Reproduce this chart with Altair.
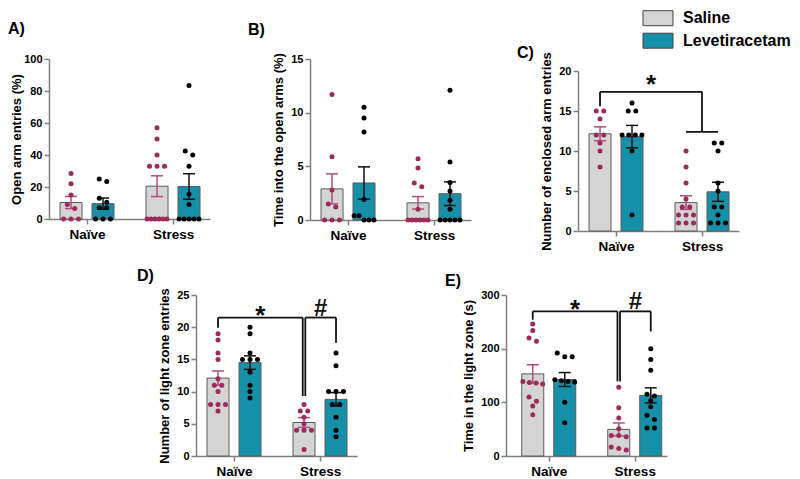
import altair as alt
import pandas as pd

GROUPS = ["Naïve", "Stress"]
TREATMENTS = ["Saline", "Levetiracetam"]

# ---------- A) Open arm entries (%) ----------
a_naive_saline = [28.5, 22, 15, 9, 6.5, 0, 0, 0]
a_naive_lev = [25, 23.5, 13, 10.5, 7, 7, 0, 0, 0]
a_stress_saline = [57, 50, 40, 33, 33, 33, 0, 0, 0, 0, 0, 0]
a_stress_lev = [83.5, 42.5, 40, 33, 15.5, 9, 0, 0, 0, 0, 0]
a_mean = [10.3, 9.6, 20.5, 20.3]      # Naïve-Sal, Naïve-Lev, Stress-Sal, Stress-Lev
a_sem = [3.8, 3.5, 6.5, 8.0]
a_ticks = [0, 20, 40, 60, 80, 100]

# ---------- B) Time into the open arms (%) ----------
b_naive_saline = [11.7, 5.9, 2.8, 1.5, 1.2, 0, 0, 0]
b_naive_lev = [10.5, 9.5, 8.2, 1.9, 0.4, 0.4, 0, 0, 0]
b_stress_saline = [5.7, 4.85, 3.45, 3.1, 1.0, 0, 0, 0, 0, 0, 0]
b_stress_lev = [12.1, 5.4, 3.5, 2.7, 1.85, 1.0, 0, 0, 0, 0, 0]
b_mean = [2.9, 3.45, 1.6, 2.45]
b_sem = [1.4, 1.5, 0.58, 1.1]
b_ticks = [0, 5, 10, 15]

# ---------- C) Number of enclosed arm entries ----------
c_naive_saline = [15, 15, 14, 12, 12, 11, 10, 8]
c_naive_lev = [16, 15, 15, 12, 12, 12, 12, 10, 2]
c_stress_saline = [10, 8, 6, 4, 3, 3, 2, 2, 2, 1, 1, 1]
c_stress_lev = [11, 11, 10, 6, 5, 3, 3, 2, 1, 1, 1]
c_mean = [12.15, 11.8, 3.55, 4.9]
c_sem = [0.87, 1.4, 0.85, 1.2]
c_ticks = [0, 5, 10, 15, 20]
c_bracket = [15.6, 17.4, 12.4]          # left drop end, top, right drop end
c_star_y = 18.9

# ---------- D) Number of light zone entries ----------
d_naive_saline = [19, 18, 16, 15, 12, 11, 11, 10, 8, 8, 8, 7]
d_naive_lev = [20, 19, 16, 15, 15, 15, 13, 11, 10, 9]
d_stress_saline = [8, 7, 7, 6, 5, 4, 4, 4, 1]
d_stress_lev = [16, 14, 10, 10, 10, 8, 8, 6, 4, 3]
d_mean = [12.1, 14.5, 5.2, 8.8]
d_sem = [1.1, 1.05, 0.75, 1.05]
d_ticks = [0, 5, 10, 15, 20, 25]
d_bracket = [19.9, 21.5, 9.3, 17.6]     # left drop, top, middle drops, right drop
d_star_y = 22.5
d_hash_y = 22.9

# ---------- E) Time in the light zone (s) ----------
e_naive_saline = [246, 234, 220, 214, 139, 137, 136, 134, 110, 102, 93, 77]
e_naive_lev = [192, 185, 185, 142, 140, 139, 138, 100, 62]
e_stress_saline = [128, 90, 71, 51, 38, 38, 36, 17, 14, 11]
e_stress_lev = [200, 180, 160, 115, 112, 103, 92, 76, 68, 52, 52]
e_mean = [153, 142.5, 49.6, 113]
e_sem = [17, 13, 12, 14]
e_ticks = [0, 100, 200, 300]
e_bracket = [254, 269.5, 139, 232]
e_star_y = 282
e_hash_y = 286.6

# ---------- styling ----------
FONT = "Liberation Sans"
SALINE_FILL = "#d4d4d4"
LEV_FILL = "#1690a9"
SALINE_DOT = "#9c2a5b"
LEV_DOT = "#000000"
SALINE_ERR = "#b24d7c"
DARK = "#111111"

GROUP_X = {"Naïve": 0.0, "Stress": 2.0}
TREAT_DX = {"Saline": -0.372, "Levetiracetam": 0.372}
BAR_HALF = 0.256
CAP_HALF = 0.14
GAP = 0.03
PW = 161

FILL_SCALE = alt.Scale(domain=TREATMENTS, range=[SALINE_FILL, LEV_FILL])


def xpos(g, t=None):
    return GROUP_X[g] + (TREAT_DX[t] if t else 0.0)


def swarm(values, ymax, height):
    tol = 4.5 * ymax / height
    vals = sorted(values, reverse=True)
    rows = []
    for v in vals:
        if rows and rows[-1][0] - v <= tol:
            rows[-1].append(v)
        else:
            rows.append([v])
    out = []
    for r in rows:
        k = len(r)
        step = 0.174 if k < 2 else min(0.174, 0.46 / (k - 1))
        for i, v in enumerate(r):
            out.append((v, (i - (k - 1) / 2) * step))
    return out


def panel_layers(ytitle, ymax, yticks, vals, means, sems, err_color, xdomain,
                 height, yshift=0, paths=None, symbols=None, xoff=0, title_pad=5):
    combos = [(g, t) for g in GROUPS for t in TREATMENTS]
    bar_rows, cap_rows, pt_rows = [], [], []
    for (g, t), m, s, v in zip(combos, means, sems, vals):
        xc = xpos(g, t)
        bar_rows.append(dict(group=g, treatment=t, xc=xc, xl=xc - BAR_HALF,
                             xr=xc + BAR_HALF, mean=m, base=0.0, lo=m - s, hi=m + s))
        for cy in (m - s, m + s):
            cap_rows.append(dict(treatment=t, capl=xc - CAP_HALF,
                                 capr=xc + CAP_HALF, cy=cy))
        for val, off in swarm(v, ymax, height - yshift):
            pt_rows.append(dict(treatment=t, x=xc + off, value=val))
    bars_df = pd.DataFrame(bar_rows)
    caps_df = pd.DataFrame(cap_rows)
    pts_df = pd.DataFrame(pt_rows)

    xscale = alt.Scale(domain=xdomain, nice=False, zero=False, range=[xoff, xoff + PW])
    yscale = alt.Scale(domain=[0, ymax], nice=False, range=[height, yshift])
    xaxis = alt.Axis(values=[0, 2], labelExpr="datum.value == 0 ? 'Naïve' : 'Stress'",
                     title=None, labelFontSize=13.5, labelPadding=3, tickSize=5,
                     labelFlush=False, grid=False)
    yaxis = alt.Axis(values=yticks, title=ytitle, labelFontSize=11, labelPadding=2,
                     tickSize=5, titleFontSize=13, titlePadding=title_pad,
                     labelFlush=False, grid=False, offset=-xoff)

    def X(f):
        return alt.X(f, type="quantitative", scale=xscale, axis=xaxis)

    def Y(f):
        return alt.Y(f, type="quantitative", scale=yscale, axis=yaxis)

    bars = alt.Chart(bars_df).mark_bar(stroke="#5c5c5c", strokeWidth=1).encode(
        x=X("xl"), x2="xr", y=Y("mean"), y2="base",
        fill=alt.Fill("treatment:N", scale=FILL_SCALE, legend=None))
    err_scale = alt.Scale(domain=TREATMENTS, range=[err_color, DARK])
    err = alt.Chart(bars_df).mark_rule(strokeWidth=1.5).encode(
        x=X("xc"), y=Y("lo"), y2="hi",
        stroke=alt.Stroke("treatment:N", scale=err_scale, legend=None))
    caps = alt.Chart(caps_df).mark_rule(strokeWidth=1.5).encode(
        x=X("capl"), x2="capr", y=Y("cy"),
        stroke=alt.Stroke("treatment:N", scale=err_scale, legend=None))
    pts = alt.Chart(pts_df).mark_circle(size=25, opacity=1).encode(
        x=X("x"), y=Y("value"),
        color=alt.Color("treatment:N", scale=alt.Scale(domain=TREATMENTS,
                        range=[SALINE_DOT, LEV_DOT]), legend=None))
    layers = [bars, err, caps, pts]

    if paths:
        seg = []
        for path in paths:
            for (x1, y1), (x2, y2) in zip(path[:-1], path[1:]):
                seg.append(dict(x=x1, y=y1, x2=x2, y2=y2))
        layers.append(alt.Chart(pd.DataFrame(seg)).mark_rule(
            strokeWidth=1.8, color=DARK).encode(x=X("x"), x2="x2", y=Y("y"), y2="y2"))
    if symbols:
        for txt, sx, sy, fs, ddy in symbols:
            layers.append(alt.Chart(pd.DataFrame([dict(x=sx, y=sy, t=txt)])).mark_text(
                font=FONT, fontWeight="bold", fontSize=fs, baseline="middle",
                align="center", dy=ddy, color=DARK).encode(x=X("x"), y=Y("y"), text="t:N"))
    return alt.layer(*layers)


def make_title(label, dx, offset=0, dy=0):
    return alt.TitleParams(text=label, anchor="start", frame="group", dx=dx, dy=dy,
                           offset=offset, fontSize=16, font=FONT, fontWeight="bold",
                           color="#000000", baseline="alphabetic")


xNS = xpos("Naïve", "Saline")
xS = xpos("Stress")
xSS = xpos("Stress", "Saline")
xSL = xpos("Stress", "Levetiracetam")

A = panel_layers("Open arm entries (%)", 100, a_ticks,
                 [a_naive_saline, a_naive_lev, a_stress_saline, a_stress_lev],
                 a_mean, a_sem, SALINE_ERR, [-0.884, 2.86], 160, title_pad=0
                 ).properties(width=161, height=160, title=make_title("A)", -41, 3.4))

B = panel_layers("Time into the open arms (%)", 15, b_ticks,
                 [b_naive_saline, b_naive_lev, b_stress_saline, b_stress_lev],
                 b_mean, b_sem, SALINE_ERR, [-0.884, 2.86], 161
                 ).properties(width=168, height=161, title=make_title("B)", -62, 1.4))

c_core = panel_layers("Number of enclosed arm entries", 20, c_ticks,
                      [c_naive_saline, c_naive_lev, c_stress_saline, c_stress_lev],
                      c_mean, c_sem, DARK, [-0.884, 2.86], 172, yshift=12,
                      paths=[[(xNS, c_bracket[0]), (xNS, c_bracket[1]), (xS, c_bracket[1]), (xS, c_bracket[2])],
                             [(xSS, c_bracket[2]), (xSL, c_bracket[2])]],
                      symbols=[("*", (xNS + xS) / 2, c_star_y, 26, 5)])

# legend (key) drawn above panel C, rows placed by a point scale over the treatments
leg_df = pd.DataFrame({"treatment": TREATMENTS})
leg_y = alt.Y("treatment:N", axis=None,
              scale=alt.Scale(type="point", domain=TREATMENTS, range=[-40.8, -18.3], padding=0))
leg_sym = alt.Chart(leg_df).mark_point(
    shape="M-2,-1L2,-1L2,1L-2,1Z", size=225, filled=True, opacity=1,
    stroke="#444444", strokeWidth=1
).encode(x=alt.value(80), y=leg_y,
         fill=alt.Fill("treatment:N", scale=FILL_SCALE, legend=None))
leg_txt = alt.Chart(leg_df).mark_text(
    align="left", baseline="middle", font=FONT, fontSize=16, fontWeight="bold",
    color="#000000"
).encode(x=alt.value(105), y=leg_y, text="treatment:N")

C = alt.layer(c_core, leg_sym, leg_txt).resolve_scale(y="independent").properties(
    width=161, height=172, title=make_title("C)", -61, 0, 65.3))

D = panel_layers("Number of light zone entries", 25, d_ticks,
                 [d_naive_saline, d_naive_lev, d_stress_saline, d_stress_lev],
                 d_mean, d_sem, SALINE_ERR, [-0.884, 2.86], 161, xoff=147,
                 paths=[[(xNS, d_bracket[0]), (xNS, d_bracket[1]), (xSS - GAP, d_bracket[1]), (xSS - GAP, d_bracket[2])],
                        [(xSS + GAP, d_bracket[2]), (xSS + GAP, d_bracket[1]), (xSL, d_bracket[1]), (xSL, d_bracket[3])]],
                 symbols=[("*", (xNS + xSS - GAP) / 2, d_star_y, 26, 5),
                          ("#", (xSS + GAP + xSL) / 2, d_hash_y, 24, 0)]
                 ).properties(width=161, height=161, title=make_title("D)", 88, 0, 9.4))

E = panel_layers("Time in the light zone (s)", 300, e_ticks,
                 [e_naive_saline, e_naive_lev, e_stress_saline, e_stress_lev],
                 e_mean, e_sem, SALINE_ERR, [-0.994, 2.75], 161, xoff=196,
                 paths=[[(xNS, e_bracket[0]), (xNS, e_bracket[1]), (xSS - GAP, e_bracket[1]), (xSS - GAP, e_bracket[2])],
                        [(xSS + GAP, e_bracket[2]), (xSS + GAP, e_bracket[1]), (xSL, e_bracket[1]), (xSL, e_bracket[3])]],
                 symbols=[("*", (xNS + xSS - GAP) / 2, e_star_y, 26, 5),
                          ("#", (xSS + GAP + xSL) / 2, e_hash_y, 24, 0)]
                 ).properties(width=168, height=161, title=make_title("E)", 135, 0, 12.5))

chart = alt.concat(
    A, B, C, D, E, columns=3, bounds="flush",
    align={"row": "all", "column": "each"},
    spacing={"row": 64, "column": 100},
).properties(
    padding={"left": 0, "top": 0, "right": 0, "bottom": 0}
).configure_view(stroke=None).configure_axis(
    domainColor="#7f7f7f", domainWidth=1.5, tickColor="#7f7f7f", tickWidth=1.5,
    labelFont=FONT, labelFontWeight="bold", labelColor="#000000",
    titleFont=FONT, titleFontWeight="bold", titleColor="#000000"
)

chart.save("out.html", embed_options={"renderer": "svg", "actions": False})
